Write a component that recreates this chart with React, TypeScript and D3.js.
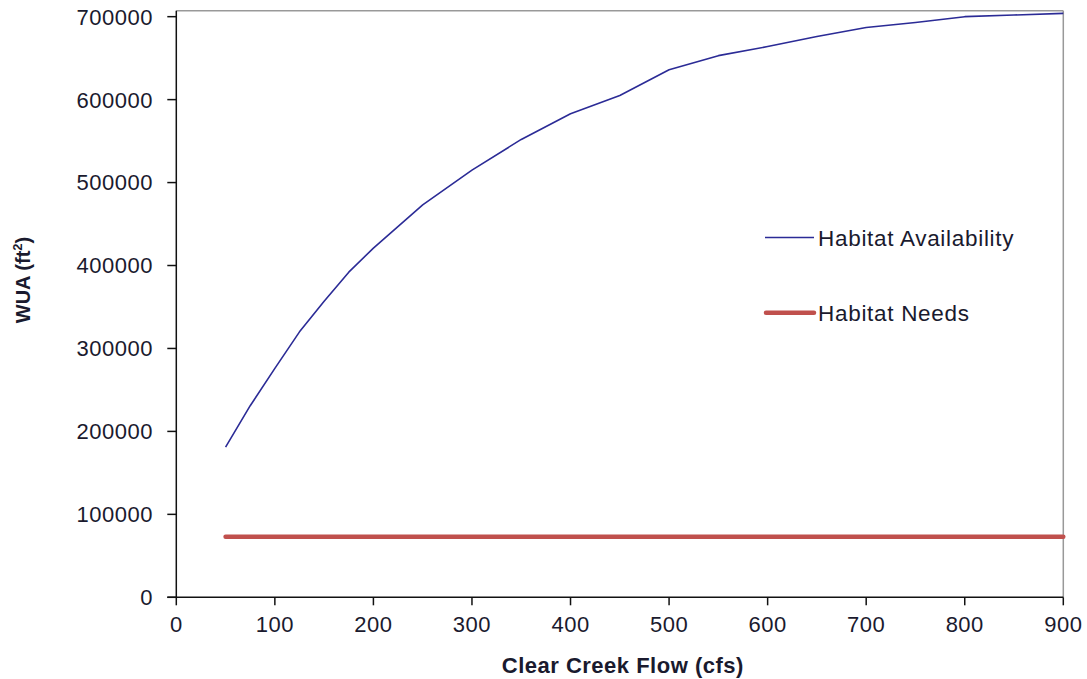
import React from "react";
import * as d3 from "d3";

const flows = [50, 75, 100, 125, 150, 175, 200, 250, 300, 350, 400, 450, 500, 550, 600, 650, 700, 750, 800, 850, 900];
const availability = [181000, 231000, 276000, 320000, 357000, 392000, 421000, 473000, 515000, 552000, 583000, 605000, 636000, 653000, 664000, 676000, 687000, 693000, 700000, 702000, 704000];
const needsFlows = [50, 900];
const needsValues = [73000, 73000];
const xTicks = [0, 100, 200, 300, 400, 500, 600, 700, 800, 900];
const yTicks = [0, 100000, 200000, 300000, 400000, 500000, 600000, 700000];
const seriesNames = ["Habitat Availability", "Habitat Needs"];

const W = 1087;
const H = 679;
const left = 176.3, right = 1063.3, top = 10.7, bottom = 597.3;

export default function App() {
  const x = d3.scaleLinear().domain([0, 900]).range([left, right]);
  const y = d3.scaleLinear().domain([0, 707200]).range([bottom, top]);
  const line = d3.line<[number, number]>().x(d => x(d[0])).y(d => y(d[1]));
  const availPath = line(flows.map((f, i) => [f, availability[i]] as [number, number])) || "";
  const needsPath = line(needsFlows.map((f, i) => [f, needsValues[i]] as [number, number])) || "";
  const font = "Arial, 'Liberation Sans', sans-serif";
  const textColor = "#1a1a2e";

  return (
    <svg width={W} height={H} style={{ position: "absolute", left: 0, top: 0, background: "#fff" }} fontFamily={font}>
      <rect x={0} y={0} width={W} height={H} fill="#fff" />
      {/* frame */}
      <line x1={left} x2={right} y1={top} y2={top} stroke="#999" strokeWidth={1.5} />
      <line x1={right} x2={right} y1={top} y2={bottom} stroke="#999" strokeWidth={1.5} />
      {/* series */}
      <path d={needsPath} fill="none" stroke="#c0504d" strokeWidth={4.5} strokeLinecap="round" />
      <path d={availPath} fill="none" stroke="#2b2b96" strokeWidth={1.6} strokeLinejoin="round" />
      {/* axes */}
      <line x1={left} x2={left} y1={top} y2={bottom} stroke="#111" strokeWidth={1.5} />
      <line x1={left - 9} x2={right} y1={bottom} y2={bottom} stroke="#111" strokeWidth={1.5} />
      {yTicks.map(t => (
        <g key={"y" + t}>
          <line x1={left - 9} x2={left} y1={y(t)} y2={y(t)} stroke="#111" strokeWidth={1.5} />
          <text x={153} y={y(t)} dy="0.36em" textAnchor="end" fontSize={22} fill={textColor} letterSpacing={0.5}>{t}</text>
        </g>
      ))}
      {xTicks.map(t => (
        <g key={"x" + t}>
          <line x1={x(t)} x2={x(t)} y1={bottom} y2={bottom + 8} stroke="#111" strokeWidth={1.5} />
          <text x={x(t)} y={631.5} textAnchor="middle" fontSize={22} fill={textColor} letterSpacing={0.5}>{t}</text>
        </g>
      ))}
      {/* axis titles */}
      <text x={(left + right) / 2 + 3} y={673} textAnchor="middle" fontSize={22} fontWeight="bold" fill={textColor} letterSpacing={0.5}>Clear Creek Flow (cfs)</text>
      <text transform={`translate(30,280) rotate(-90)`} textAnchor="middle" fontSize={20} fontWeight="bold" fill={textColor}>
        WUA (ft<tspan fontSize={13} dy={-8}>2</tspan><tspan dy={8}>)</tspan>
      </text>
      {/* legend */}
      <line x1={765} x2={814} y1={237.5} y2={237.5} stroke="#2b2b96" strokeWidth={1.6} />
      <text x={818} y={245.5} fontSize={22.5} fill={textColor} letterSpacing={0.7}>{seriesNames[0]}</text>
      <line x1={766} x2={814} y1={312.7} y2={312.7} stroke="#c0504d" strokeWidth={4.5} strokeLinecap="round" />
      <text x={818} y={321} fontSize={22.5} fill={textColor} letterSpacing={0.7}>{seriesNames[1]}</text>
    </svg>
  );
}
